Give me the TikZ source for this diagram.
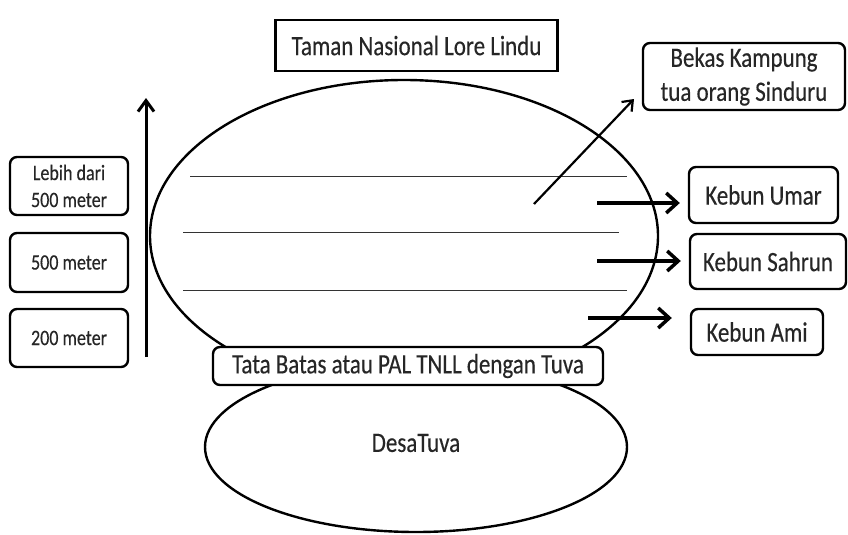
\documentclass[tikz,border=0pt]{standalone}
\usepackage{fontspec}
\newfontfamily\calib[FakeStretch=0.82,FakeBold=0.3]{Carlito}
\usetikzlibrary{arrows.meta,shapes.geometric}
\tikzset{
  box/.style={draw=black, line width=2.4pt, fill=white, rounded corners=7pt, inner sep=0pt,
    align=center, text=black!85, font=\calib\fontsize{28}{34}\selectfont},
  sbox/.style={box, font=\calib\fontsize{22}{27}\selectfont},
  sqbox/.style={box, rounded corners=0pt},
  oval/.style={draw=black, line width=2.4pt, fill=white, ellipse, inner sep=0pt, text=black!85,
    font=\calib\fontsize{28}{34}\selectfont},
  level/.style={line width=1pt, draw=black!80},
  harrow/.style={line width=4pt, -{Straight Barb[length=11pt,width=20pt,line width=3.5pt]}},
  darrow/.style={line width=2.2pt, -{Straight Barb[length=9pt,width=14pt,line width=2.2pt]}},
  varrow/.style={line width=3pt, -{Straight Barb[length=11pt,width=16pt,line width=3pt]}},
}
\begin{document}
\begin{tikzpicture}[x=1pt,y=-1pt]
\useasboundingbox[fill=white] (0,0) rectangle (848,535);
% big ellipse and levels
\node[oval, minimum width=508pt, minimum height=312pt] (park) at (404,236) {};
\coordinate (l1a) at (190,176); \coordinate (l1b) at (627,176);
\coordinate (l2a) at (183,232); \coordinate (l2b) at (619,232);
\coordinate (l3a) at (183,290); \coordinate (l3b) at (627,290);
\draw[level] (l1a) -- (l1b);
\draw[level] (l2a) -- (l2b);
\draw[level] (l3a) -- (l3b);
% lower ellipse
\node[oval, minimum width=422pt, minimum height=170pt] (desa) at (416,447) {};
\node[text=black!85, font=\calib\fontsize{28}{34}\selectfont] (desatxt) at (416,443) {DesaTuva};
% boxes
\node[sqbox, minimum width=282pt, minimum height=51pt] (tnll) at (416.5,45.5) {Taman Nasional Lore Lindu};
\node[box, minimum width=390pt, minimum height=38pt] (tata) at (408,366) {Tata Batas atau PAL TNLL dengan Tuva};
\node[box, minimum width=202pt, minimum height=67pt] (bekas) at (744,76.5) {Bekas Kampung\\tua orang Sinduru};
\node[box, minimum width=149pt, minimum height=56pt] (umar) at (763.5,195) {Kebun Umar};
\node[box, minimum width=156pt, minimum height=55pt] (sahrun) at (768,261.5) {Kebun Sahrun};
\node[box, minimum width=132pt, minimum height=46pt] (ami) at (757,332) {Kebun Ami};
\node[sbox, minimum width=118pt, minimum height=58pt] (h1) at (69,186) {Lebih dari\\500 meter};
\node[sbox, minimum width=118pt, minimum height=59pt] (h2) at (69,262.5) {500 meter};
\node[sbox, minimum width=118pt, minimum height=58pt] (h3) at (69,338) {200 meter};
% arrows
\coordinate (v0) at (146,357); \coordinate (v1) at (146,98);
\draw[varrow] (v0) -- (v1);
\coordinate (d0) at (534,204); \coordinate (d1) at (634,99);
\draw[darrow] (d0) -- (d1);
\coordinate (u0) at (597,203); \coordinate (s0) at (597,261); \coordinate (a0) at (588,318);
\draw[harrow, shorten >=8pt] (u0) -- (u0 -| umar.west);
\draw[harrow, shorten >=8pt] (s0) -- (s0 -| sahrun.west);
\draw[harrow, shorten >=18pt] (a0) -- (a0 -| ami.west);
\end{tikzpicture}
\end{document}
